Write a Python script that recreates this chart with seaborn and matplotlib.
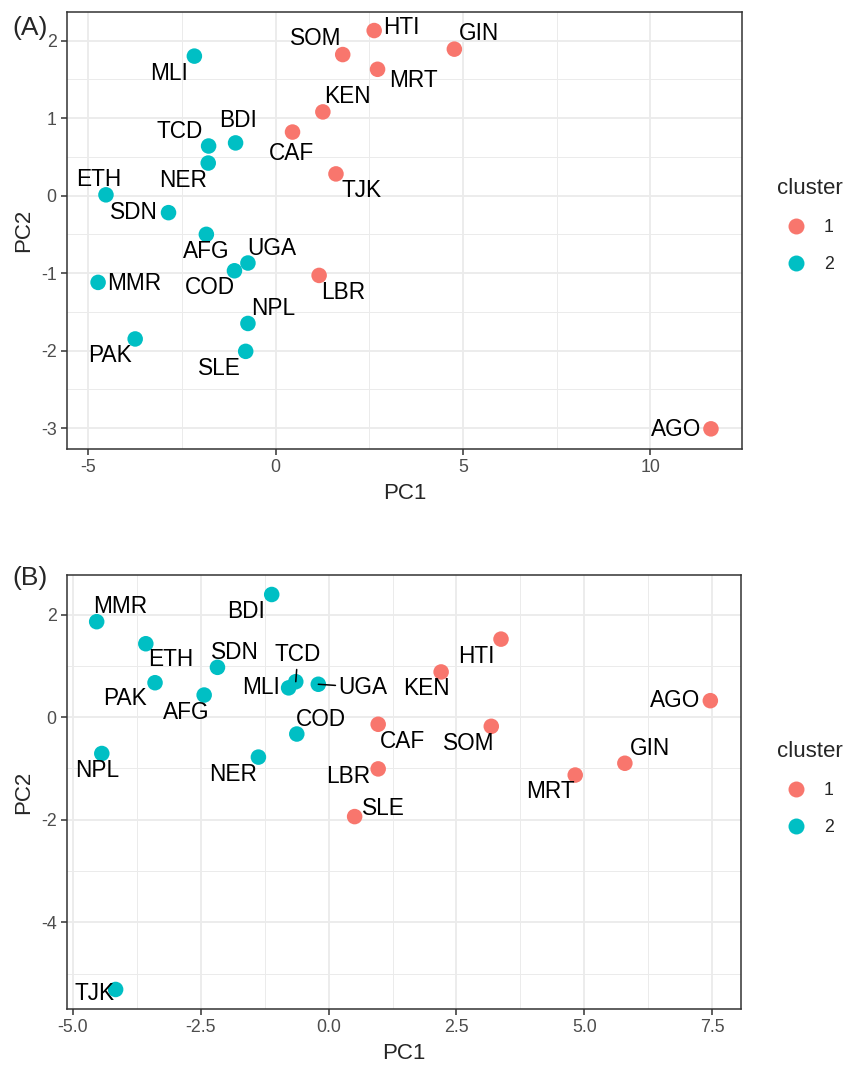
import matplotlib
matplotlib.use("Agg")
import matplotlib.pyplot as plt
import seaborn as sns
import pandas as pd
import numpy as np

# ---------------- data ----------------
codes_a = ["MLI", "HTI", "SOM", "MRT", "KEN", "CAF", "TJK", "BDI", "TCD", "NER", "ETH",
           "SDN", "AFG", "UGA", "COD", "MMR", "LBR", "NPL", "PAK", "SLE", "GIN", "AGO"]
pc1_a = [-2.17, 2.63, 1.79, 2.72, 1.26, 0.45, 1.61, -1.07, -1.79, -1.80, -4.53,
         -2.86, -1.85, -0.74, -1.10, -4.74, 1.16, -0.74, -3.75, -0.80, 4.77, 11.62]
pc2_a = [1.80, 2.13, 1.82, 1.63, 1.08, 0.82, 0.28, 0.68, 0.64, 0.42, 0.01,
         -0.22, -0.50, -0.87, -0.97, -1.12, -1.03, -1.65, -1.85, -2.01, 1.89, -3.01]
cluster_a = ["2", "1", "1", "1", "1", "1", "1", "2", "2", "2", "2",
             "2", "2", "2", "2", "2", "1", "2", "2", "2", "1", "1"]

codes_b = ["MMR", "BDI", "ETH", "PAK", "SDN", "AFG", "MLI", "TCD", "UGA", "COD", "NPL",
           "NER", "CAF", "LBR", "SLE", "TJK", "HTI", "KEN", "SOM", "AGO", "GIN", "MRT"]
pc1_b = [-4.53, -1.11, -3.57, -3.39, -2.17, -2.43, -0.78, -0.64, -0.20, -0.62, -4.43,
         -1.37, 0.97, 0.97, 0.51, -4.16, 3.37, 2.20, 3.18, 7.46, 5.79, 4.82]
pc2_b = [1.86, 2.39, 1.43, 0.67, 0.97, 0.43, 0.57, 0.69, 0.64, -0.33, -0.71,
         -0.78, -0.14, -1.01, -1.94, -5.31, 1.52, 0.88, -0.18, 0.32, -0.90, -1.13]
cluster_b = ["2", "2", "2", "2", "2", "2", "2", "2", "2", "2", "2",
             "2", "1", "1", "1", "2", "1", "1", "1", "1", "1", "1"]

cluster_levels = ["1", "2"]

# ---------------- label placement (pixel offsets: dx right, dy down) ----------------
offsets_a = {"MLI": (-25, 17), "HTI": (27, -3), "SOM": (-27, -16), "MRT": (36, 11),
             "KEN": (25, -15), "CAF": (-1, 21), "TJK": (26, 17), "BDI": (2, -22),
             "TCD": (-29, -15), "NER": (-25, 17), "ETH": (-7, -15), "SDN": (-35, 0),
             "AFG": (0, 17), "UGA": (24, -15), "COD": (-25, 17), "MMR": (36, 1),
             "LBR": (24, 17), "NPL": (25, -15), "PAK": (-25, 17), "SLE": (-26, 17),
             "GIN": (25, -16), "AGO": (-35, 1)}
offsets_b = {"MMR": (24, -15), "BDI": (-26, 17), "ETH": (25, 16), "PAK": (-30, 16),
             "SDN": (17, -15), "AFG": (-18, 17), "MLI": (-28, 0), "TCD": (2, -27),
             "UGA": (45, 3), "COD": (24, -15), "NPL": (-5, 17), "NER": (-25, 17),
             "CAF": (24, 17), "LBR": (-30, 8), "SLE": (29, -8), "TJK": (-21, 4),
             "HTI": (-25, 17), "KEN": (-15, 17), "SOM": (-23, 17), "AGO": (-35, 0),
             "GIN": (25, -15), "MRT": (-25, 16)}
segments_b = {"TCD", "UGA"}

# ---------------- style ----------------
sns.set_style("white")
plt.rcParams["font.family"] = ["Liberation Sans", "DejaVu Sans"]
plt.rcParams["axes.unicode_minus"] = False
palette = {"1": "#F8766D", "2": "#00BFC4"}

fig = plt.figure(figsize=(8.47, 10.67), dpi=100)
axA = fig.add_axes([0.0791, 0.5792, 0.797, 0.4096])
axB = fig.add_axes([0.0791, 0.0544, 0.7958, 0.4067])


def draw_panel(ax, codes, x, y, cl, offsets, segs, xlim, ylim, xt, xminor, yt, yminor,
               xfmt, leg_anchor):
    df = pd.DataFrame({"code": codes, "PC1": x, "PC2": y,
                       "cluster": pd.Categorical(cl, categories=cluster_levels)})
    sns.scatterplot(data=df, x="PC1", y="PC2", hue="cluster", hue_order=cluster_levels,
                    palette=palette, s=125, linewidth=0, edgecolor="none", ax=ax,
                    zorder=3, legend=True)
    for c, xi, yi in zip(codes, x, y):
        dx, dy = offsets.get(c, (0, 0))
        kw = {}
        if c in segs:
            kw["arrowprops"] = dict(arrowstyle="-", color="black", lw=1.1,
                                    shrinkA=0, shrinkB=0)
        ax.annotate(c, xy=(xi, yi), xytext=(dx, -dy), textcoords="offset pixels",
                    ha="center", va="center", fontsize=16.3, color="black",
                    zorder=4, **kw)
    ax.set_xlim(*xlim)
    ax.set_ylim(*ylim)
    ax.set_xticks(xt)
    ax.set_xticklabels([xfmt(v) for v in xt])
    ax.set_xticks(xminor, minor=True)
    ax.set_yticks(yt)
    ax.set_yticklabels([str(v) for v in yt])
    ax.set_yticks(yminor, minor=True)
    ax.grid(True, which="major", color="#EBEBEB", lw=1.3, zorder=0)
    ax.grid(True, which="minor", color="#EBEBEB", lw=0.7, zorder=0)
    ax.set_axisbelow(True)
    for sp in ax.spines.values():
        sp.set_color("#333333")
        sp.set_linewidth(1.1)
    ax.tick_params(which="major", direction="out", length=4, width=1.1, color="#333333",
                   labelsize=12.8, labelcolor="#4D4D4D", pad=3.5,
                   bottom=True, left=True)
    ax.tick_params(which="minor", length=0)
    ax.set_xlabel("PC1", fontsize=16, labelpad=5)
    ax.set_ylabel("PC2", fontsize=16, labelpad=5)
    handles, labels = ax.get_legend_handles_labels()
    ax.legend_.remove()
    for h in handles:
        h.set_markersize(11.5)
    leg = fig.legend(handles, labels, title="cluster", loc="upper left",
                     bbox_to_anchor=leg_anchor, frameon=False, fontsize=12.8,
                     title_fontsize=16, handletextpad=0.52, labelspacing=1.12,
                     handlelength=2.1, borderaxespad=0, borderpad=0)
    leg._legend_box.align = "left"


draw_panel(axA, codes_a, pc1_a, pc2_a, cluster_a, offsets_a, set(),
           (-5.57, 12.45), (-3.27, 2.37), [-5, 0, 5, 10], [-2.5, 2.5, 7.5],
           [-3, -2, -1, 0, 1, 2], [-2.5, -1.5, -0.5, 0.5, 1.5],
           lambda v: str(v), (0.9175, 0.8332))
draw_panel(axB, codes_b, pc1_b, pc2_b, cluster_b, offsets_b, segments_b,
           (-5.11, 8.06), (-5.69, 2.77), [-5.0, -2.5, 0.0, 2.5, 5.0, 7.5],
           [-3.75, -1.25, 1.25, 3.75, 6.25],
           [-4, -2, 0, 2], [-5, -3, -1, 1],
           lambda v: f"{v:.1f}", (0.9175, 0.3055))

fig.text(0.015, 1 - 28 / 1067, "(A)", fontsize=19, ha="left", va="center")
fig.text(0.015, 1 - 578 / 1067, "(B)", fontsize=19, ha="left", va="center")

fig.savefig("out.png", dpi=100)
